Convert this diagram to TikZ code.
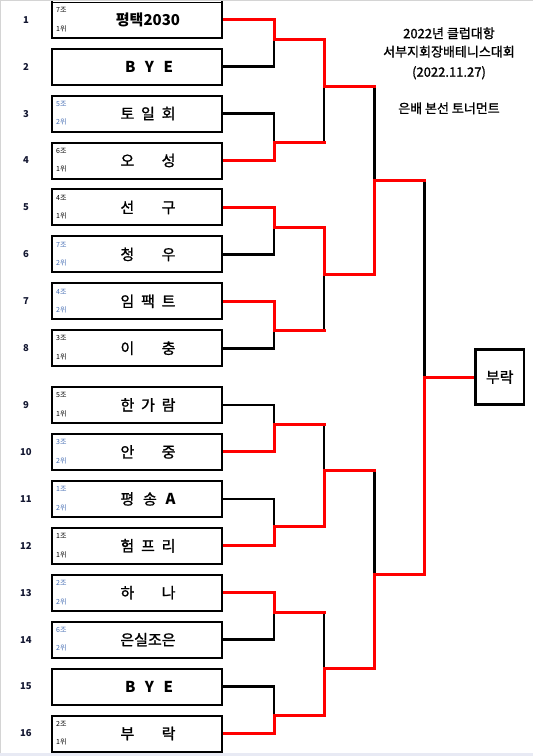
\documentclass[tikz,border=0pt]{standalone}
\usepackage{fontspec}
\setmainfont{Noto Sans CJK KR}
\newfontfamily\krheavy[FakeBold=1.2]{Noto Sans CJK KR}
\definecolor{grpblue}{RGB}{70,110,180}
\definecolor{gridgray}{RGB}{212,212,212}
\definecolor{barfill}{RGB}{232,234,244}
\definecolor{numcol}{RGB}{20,24,50}
\begin{document}
\begin{tikzpicture}[x=1pt,y=-1pt,
  box/.style={draw, line width=2pt, minimum width=170.6pt, minimum height=36pt, inner sep=0pt},
  numlbl/.style={inner sep=0pt, text=numcol, font=\fontsize{9.5pt}{11pt}\selectfont\bfseries},
  grp/.style={anchor=west, inner sep=0pt, font=\fontsize{7pt}{8pt}\selectfont},
  team/.style={inner sep=0pt, font=\krheavy\fontsize{15pt}{18pt}\selectfont},
  title/.style={inner sep=0pt, font=\krheavy\fontsize{13pt}{15pt}\selectfont},
  lose/.style={draw=black, line width=2.6pt, line cap=rect},
  win/.style={draw=red, line width=3pt}]
\newcommand\teamrow[6]{%
  \node[box] (b#1) at (137,#2) {};
  \node[numlbl] (num#1) at (26,#2) {#1};
  \node[team] (t#1) at (148,#2) {#3};
  \node[grp,text=#6] (g#1) at (56,{#2-9.8}) {#4};
  \node[grp,text=#6] (r#1) at (56,{#2+8.7}) {#5};}
\newcommand\byerow[2]{%
  \node[box] (b#1) at (137,#2) {};
  \node[numlbl] (num#1) at (26,#2) {#1};
  \node[team] (t#1) at (149,#2) {\makebox[48pt][s]{\normalfont\bfseries B\hfill Y\hfill E}};}
\newcommand\spr[1]{\makebox[55pt][s]{#1}}
\fill[white] (0,0) rectangle (533,756);
\useasboundingbox (0,0) rectangle (533,756);
\draw[gridgray, line width=1pt] (0,0.6) -- (533,0.6);
\draw[gridgray, line width=1pt] (0.8,0) -- (0.8,756);
\fill[barfill] (0,753.3) rectangle (533,756);
% entries
\teamrow{1}{19.7}{\normalfont\bfseries 평택2030}{7조}{1위}{black}
\byerow{2}{66.63}
\teamrow{3}{113.56}{\spr{토\hfill 일\hfill 회}}{5조}{2위}{grpblue}
\teamrow{4}{160.5}{\spr{오\hfill 성}}{6조}{1위}{black}
\teamrow{5}{207.4}{\spr{선\hfill 구}}{4조}{1위}{black}
\teamrow{6}{254.35}{\spr{청\hfill 우}}{7조}{2위}{grpblue}
\teamrow{7}{301.3}{\spr{임\hfill 팩\hfill 트}}{4조}{2위}{grpblue}
\teamrow{8}{348.2}{\spr{이\hfill 충}}{3조}{1위}{black}
\teamrow{9}{405}{\spr{한\hfill 가\hfill 람}}{5조}{1위}{black}
\teamrow{10}{451.9}{\spr{안\hfill 중}}{3조}{2위}{grpblue}
\teamrow{11}{498.9}{\spr{평\hfill 송\hfill{\normalfont\bfseries A}}}{1조}{2위}{grpblue}
\teamrow{12}{545.8}{\spr{험\hfill 프\hfill 리}}{1조}{1위}{black}
\teamrow{13}{592.7}{\spr{하\hfill 나}}{2조}{2위}{grpblue}
\teamrow{14}{639.6}{은실조은}{6조}{2위}{grpblue}
\byerow{15}{686.6}
\teamrow{16}{733.5}{\spr{부\hfill 락}}{2조}{1위}{black}
% cover top border of box 1 (cropped in the original)
\fill[white] (52.8,-2) rectangle (221.2,1.8);
\draw[gridgray, line width=1pt] (52.8,0.6) -- (221.2,0.6);
% title
\node[title] (h1) at (449,33.3) {2022년 클럽대항};
\node[title] (h2) at (449,51.7) {서부지회장배테니스대회};
\node[title] (h3) at (449,72.7) {(2022.11.27)};
\node[title] (h4) at (449,108.3) {은배 본선 토너먼트};
% final
\node[draw, line width=2.8pt, minimum width=48.7pt, minimum height=55.2pt, inner sep=0pt,
      font=\krheavy\fontsize{15pt}{18pt}\selectfont] (final) at (499.7,377.1) {부락};
% junctions
\coordinate (j1) at (274,39);
\coordinate (j2) at (274,142.3);
\coordinate (j3) at (274,227.3);
\coordinate (j4) at (274,330.3);
\coordinate (j5) at (274,424);
\coordinate (j6) at (274,526.7);
\coordinate (j7) at (274,612.3);
\coordinate (j8) at (274,715);
\coordinate (k1) at (324,86);
\coordinate (k2) at (324,274);
\coordinate (k3) at (324,470.7);
\coordinate (k4) at (324,668);
\coordinate (m1) at (374.3,180);
\coordinate (m2) at (374.3,574);
\coordinate (q) at (424.2,377.1);
% losing connectors
\draw[lose] (b2.east) -| (j1);
\draw[lose] (b3.east) -| (j2);
\draw[lose] (b6.east) -| (j3);
\draw[lose] (b8.east) -| (j4);
\draw[lose] (b9.east) -| (j5);
\draw[lose] (b11.east) -| (j6);
\draw[lose] (b14.east) -| (j7);
\draw[lose] (b15.east) -| (j8);
\draw[lose] (j2 -| k1) -- (k1);
\draw[lose] (j4 -| k2) -- (k2);
\draw[lose] (j5 -| k3) -- (k3);
\draw[lose] (j7 -| k4) -- (k4);
\draw[lose] (k1 -| m1) -- (m1);
\draw[lose] (k3 -| m2) -- (m2);
\draw[lose] (m1 -| q) -- (q);
% winning paths
\draw[win, shorten >=-1.5pt] (b1.east) -| (j1) -| (k1) -- (k1 -| m1);
\draw[win, shorten >=-1.5pt] (b4.east) -| (j2) -- (j2 -| k1);
\draw[win, shorten >=-1.5pt] (b5.east) -| (j3) -| (k2) -| (m1) -- (m1 -| q);
\draw[win, shorten >=-1.5pt] (b7.east) -| (j4) -- (j4 -| k2);
\draw[win, shorten >=-1.5pt] (b10.east) -| (j5) -- (j5 -| k3);
\draw[win, shorten >=-1.5pt] (b12.east) -| (j6) -| (k3) -- (k3 -| m2);
\draw[win, shorten >=-1.5pt] (b13.east) -| (j7) -- (j7 -| k4);
\draw[win] (b16.east) -| (j8) -| (k4) -| (m2) -| (q) -- (final.west);
\end{tikzpicture}
\end{document}
